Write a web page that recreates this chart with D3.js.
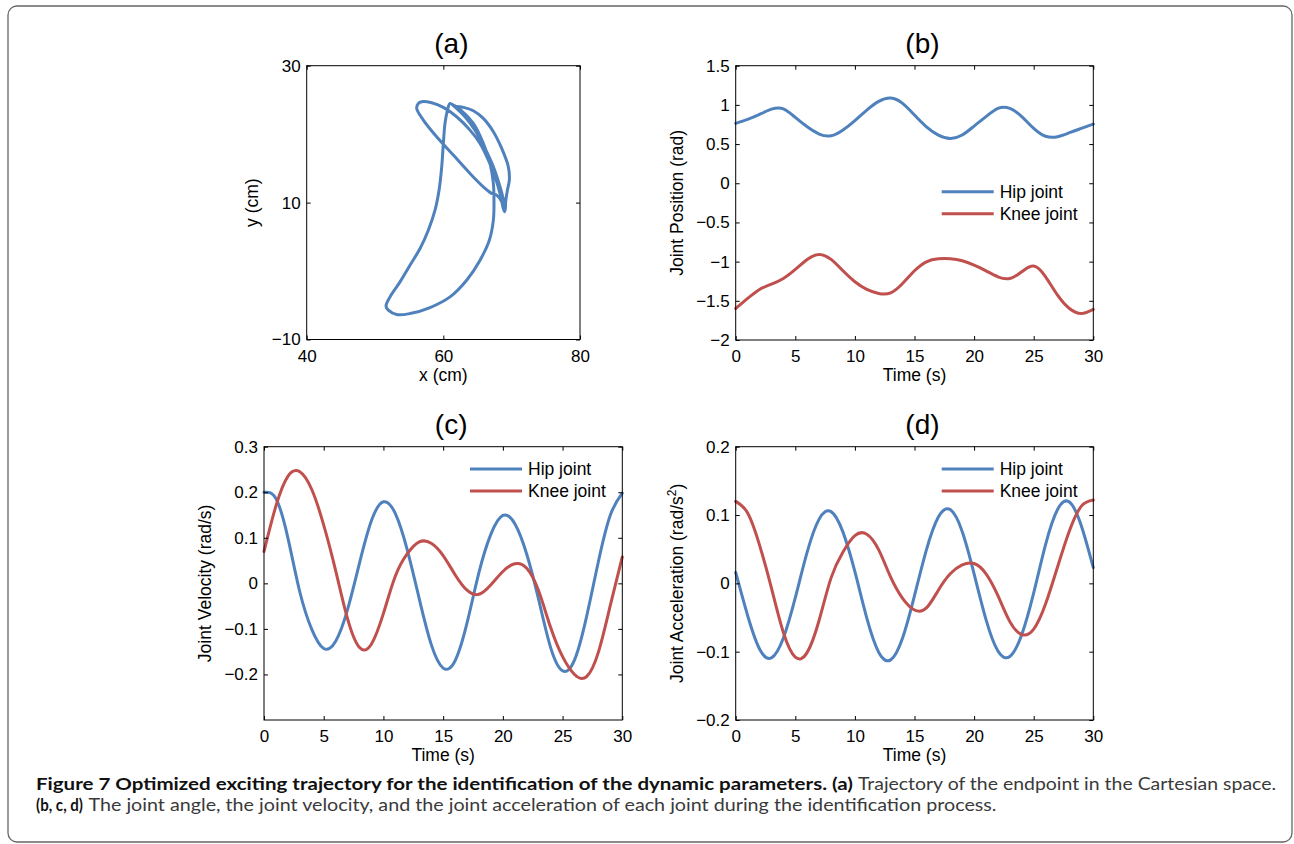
<!DOCTYPE html>
<html>
<head>
<meta charset="utf-8">
<script src="https://cdn.jsdelivr.net/npm/d3@7"></script>
<style>
  body { margin: 0; background: #fff; }
</style>
</head>
<body>
<svg id="fig" width="1294" height="844"></svg>
<script>
// ---- data ----
const timeS = [0,1,2,3,4,5,6,7,8,9,10,11,12,13,14,15,16,17,18,19,20,21,22,23,24,25,26,27,28,29,30]

// (b) joint position (rad)
const hipPos  = [0.764,0.815,0.879,0.945,0.950,0.84,0.72,0.628,0.606,0.68,0.80,0.934,1.045,1.087,1.02,0.87,0.72,0.615,0.572,0.615,0.73,0.85,0.955,0.955,0.85,0.70,0.60,0.594,0.645,0.70,0.755]
const kneePos = [-1.598,-1.47,-1.355,-1.287,-1.215,-1.10,-0.972,-0.908,-0.972,-1.117,-1.257,-1.355,-1.406,-1.398,-1.279,-1.117,-1.002,-0.964,-0.964,-0.989,-1.045,-1.117,-1.194,-1.215,-1.13,-1.057,-1.194,-1.428,-1.598,-1.662,-1.61]

// (c) joint velocity (rad/s)
const hipVel  = [0.200,0.186,0.100,-0.019,-0.101,-0.143,-0.127,-0.057,0.045,0.138,0.179,0.153,0.073,-0.034,-0.134,-0.186,-0.170,-0.087,0.024,0.108,0.149,0.131,0.064,-0.036,-0.141,-0.192,-0.168,-0.074,0.048,0.150,0.198]
const kneeVel = [0.070,0.170,0.235,0.245,0.206,0.128,0.028,-0.078,-0.141,-0.133,-0.066,0.016,0.065,0.091,0.088,0.061,0.019,-0.015,-0.024,-0.003,0.026,0.043,0.033,-0.017,-0.097,-0.161,-0.200,-0.205,-0.151,-0.048,0.058]

// (d) joint acceleration (rad/s^2)
const hipAcc  = [0.016,-0.047,-0.096,-0.109,-0.080,-0.021,0.046,0.094,0.105,0.075,0.017,-0.051,-0.101,-0.112,-0.080,-0.018,0.049,0.097,0.108,0.076,0.014,-0.053,-0.099,-0.107,-0.075,-0.014,0.057,0.108,0.119,0.084,0.023]
const kneeAcc = [0.120,0.103,0.056,-0.007,-0.072,-0.108,-0.101,-0.054,0.008,0.046,0.070,0.072,0.049,0.009,-0.022,-0.039,-0.036,-0.010,0.014,0.027,0.029,0.014,-0.018,-0.056,-0.075,-0.067,-0.030,0.024,0.077,0.113,0.122]

// (a) endpoint trajectory (cm), traced in path order
const trajX = [51.61,52.20,53.66,55.12,56.59,57.80,58.78,59.37,59.76,60.00,60.24,60.59,60.98,
  61.71,62.93,64.39,65.85,67.32,68.54,69.51,69.66,69.37,69.12,69.02,
  68.54,67.80,67.07,65.85,63.90,61.46,59.02,57.07,56.10,56.34,
  56.83,58.29,60.00,61.95,63.90,65.37,66.59,67.56,68.29,68.78,68.98,
  68.88,68.29,67.32,66.10,64.63,63.17,61.95,61.22,
  62.44,64.39,65.85,66.83,67.32,67.41,67.32,66.73,65.37,63.41,60.98,58.05,55.12,53.17,51.95]
const trajY = [-5.13,-3.77,-1.58,0.86,3.29,5.97,8.90,11.82,15.23,18.65,21.57,23.42,24.49,
  24.10,23.91,23.42,22.30,20.35,17.91,15.23,13.28,11.82,10.12,8.80,
  10.12,11.09,11.34,12.31,14.26,16.94,19.62,22.06,23.76,24.49,
  24.74,24.59,23.91,22.54,20.59,18.65,16.21,13.77,11.34,9.14,8.66,
  9.97,12.31,15.23,17.91,20.59,22.54,23.76,24.40,
  23.62,21.57,18.65,15.72,12.80,10.36,7.44,4.51,1.59,-1.34,-3.77,-5.33,-6.21,-6.36,-5.72]

const seriesNames = ['Hip joint', 'Knee joint']
const ticksAX = [40, 60, 80]
const ticksAY = [-10, 10, 30]
const ticksTime = [0, 5, 10, 15, 20, 25, 30]
const ticksPos = [-2, -1.5, -1, -0.5, 0, 0.5, 1, 1.5]
const ticksVel = [-0.2, -0.1, 0, 0.1, 0.2, 0.3]
const ticksAcc = [-0.2, -0.1, 0, 0.1, 0.2]

const BLUE = '#4f81bd'
const RED = '#c0504d'
const FONT = '"Liberation Sans", Arial, Helvetica, sans-serif'

const svg = d3.select('#fig').style('font-family', FONT)

// outer rounded frame
svg.append('rect')
  .attr('x', 8).attr('y', 6).attr('width', 1284).attr('height', 836)
  .attr('rx', 9).attr('fill', '#fff').attr('stroke', '#666').attr('stroke-width', 1.3)

function drawPanel(p) {
  const w = p.right - p.left, h = p.bottom - p.top
  const g = svg.append('g').attr('transform', `translate(${p.left},${p.top})`)
  const x = d3.scaleLinear().domain(p.xDomain).range([0, w])
  const y = d3.scaleLinear().domain(p.yDomain).range([h, 0])
  const fmt = d3.format('')

  // curves: time series use a natural spline, the closed trajectory a catmull-rom loop
  p.series.forEach(s => {
    const line = d3.line()
      .x(d => x(d[0])).y(d => y(d[1]))
      .curve(s.closed ? d3.curveCatmullRomClosed.alpha(0.5) : d3.curveNatural)
    g.append('path')
      .attr('d', line(d3.zip(s.xs, s.ys)))
      .attr('fill', 'none').attr('stroke', s.color).attr('stroke-width', 3)
      .attr('stroke-linejoin', 'round').attr('stroke-linecap', 'round')
  })

  // box
  g.append('rect').attr('width', w).attr('height', h)
    .attr('fill', 'none').attr('stroke', '#000').attr('stroke-width', 1)

  // ticks inward on all four sides
  const axes = [
    [d3.axisBottom(x).tickValues(p.xTicks).tickFormat(fmt).tickPadding(10), `translate(0,${h})`],
    [d3.axisLeft(y).tickValues(p.yTicks).tickFormat(fmt).tickPadding(6), null],
    [d3.axisTop(x).tickValues(p.xTicks).tickFormat(''), null],
    [d3.axisRight(y).tickValues(p.yTicks).tickFormat(''), `translate(${w},0)`]
  ]
  axes.forEach(([ax, tr]) => {
    const a = g.append('g').call(ax.tickSize(-4))
    if (tr) a.attr('transform', tr)
    a.select('.domain').remove()
    a.attr('font-size', 17).attr('font-family', FONT)
    a.selectAll('line').attr('stroke', '#000')
  })

  // title
  g.append('text').attr('x', w / 2 + 8).attr('y', -13)
    .attr('text-anchor', 'middle').attr('font-size', 28).text(p.title)

  // axis labels
  g.append('text').attr('x', w / 2).attr('y', h + 41.5)
    .attr('text-anchor', 'middle').attr('font-size', 17.5).text(p.xLabel)
  const yl = g.append('text')
    .attr('transform', `translate(${-p.yLabelOff},${h / 2}) rotate(-90)`)
    .attr('text-anchor', 'middle').attr('font-size', 17.5)
  yl.append('tspan').text(p.yLabel)
  if (p.yLabelSup) {
    yl.append('tspan').attr('font-size', 12).attr('dy', -7).text(p.yLabelSup)
    yl.append('tspan').attr('dy', 7).text(')')
  }

  // legend (no box)
  if (p.legend) {
    p.series.forEach((s, i) => {
      const ly = p.legend.y + i * 22
      g.append('line').attr('x1', p.legend.x).attr('x2', p.legend.x + 52)
        .attr('y1', ly).attr('y2', ly).attr('stroke', s.color).attr('stroke-width', 3)
      g.append('text').attr('x', p.legend.x + 58).attr('y', ly).attr('dy', '0.35em')
        .attr('font-size', 17.5).text(seriesNames[i])
    })
  }
}

drawPanel({
  left: 306.7, right: 580, top: 65.7, bottom: 339.5,
  xDomain: [40, 80], yDomain: [-10, 30], xTicks: ticksAX, yTicks: ticksAY,
  title: '(a)', xLabel: 'x (cm)', yLabel: 'y (cm)', yLabelOff: 48.5,
  series: [{ xs: trajX, ys: trajY, color: BLUE, closed: true }]
})

drawPanel({
  left: 735.7, right: 1093.3, top: 65.7, bottom: 340,
  xDomain: [0, 30], yDomain: [-2, 1.5], xTicks: ticksTime, yTicks: ticksPos,
  title: '(b)', xLabel: 'Time (s)', yLabel: 'Joint Position (rad)', yLabelOff: 53,
  series: [{ xs: timeS, ys: hipPos, color: BLUE }, { xs: timeS, ys: kneePos, color: RED }],
  legend: { x: 206, y: 126 }
})

drawPanel({
  left: 264, right: 622.3, top: 446.7, bottom: 720,
  xDomain: [0, 30], yDomain: [-0.3, 0.3], xTicks: ticksTime, yTicks: ticksVel,
  title: '(c)', xLabel: 'Time (s)', yLabel: 'Joint Velocity (rad/s)', yLabelOff: 53,
  series: [{ xs: timeS, ys: hipVel, color: BLUE }, { xs: timeS, ys: kneeVel, color: RED }],
  legend: { x: 206, y: 22.3 }
})

drawPanel({
  left: 735.7, right: 1093.3, top: 446.7, bottom: 720,
  xDomain: [0, 30], yDomain: [-0.2, 0.2], xTicks: ticksTime, yTicks: ticksAcc,
  title: '(d)', xLabel: 'Time (s)', yLabel: 'Joint Acceleration (rad/s', yLabelSup: '2', yLabelOff: 53,
  series: [{ xs: timeS, ys: hipAcc, color: BLUE }, { xs: timeS, ys: kneeAcc, color: RED }],
  legend: { x: 206, y: 22.3 }
})

// caption
const capFont = 'Lato, "Open Sans", sans-serif'
const caption = [
  { x: 36, y: 790, len: 817, bold: true, t: 'Figure 7 Optimized exciting trajectory for the identification of the dynamic parameters. (a)' },
  { x: 858, y: 790, len: 418, bold: false, t: 'Trajectory of the endpoint in the Cartesian space.' },
  { x: 36, y: 810.5, len: 47, bold: true, t: '(b, c, d)' },
  { x: 88.5, y: 810.5, len: 908, bold: false, t: 'The joint angle, the joint velocity, and the joint acceleration of each joint during the identification process.' }
]
svg.selectAll('.cap').data(caption).enter().append('text')
  .attr('class', 'cap')
  .attr('x', d => d.x).attr('y', d => d.y)
  .attr('textLength', d => d.len).attr('lengthAdjust', 'spacingAndGlyphs')
  .attr('font-family', capFont).attr('font-size', 17)
  .attr('font-weight', d => d.bold ? 700 : 400)
  .attr('fill', d => d.bold ? '#111' : '#3a3a3a')
  .text(d => d.t)
</script>
</body>
</html>
